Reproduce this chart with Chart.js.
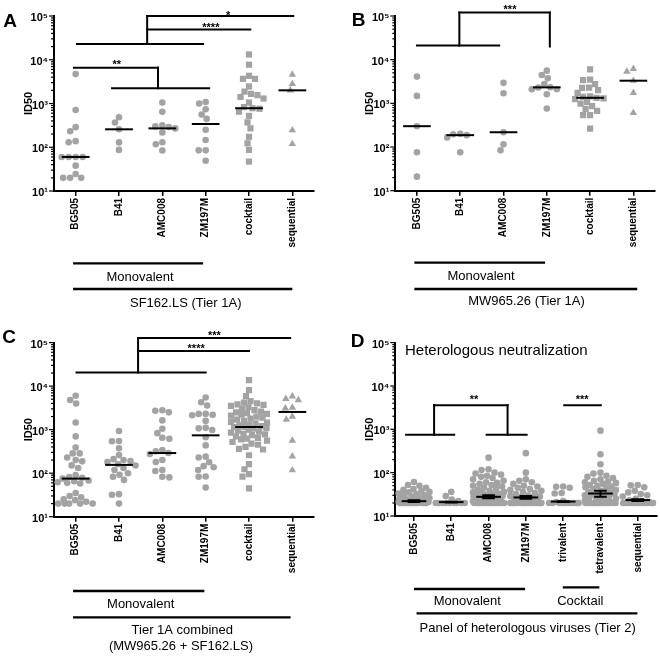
<!DOCTYPE html>
<html><head><meta charset="utf-8">
<script src="https://cdn.jsdelivr.net/npm/chart.js@4/dist/chart.umd.min.js"></script>
<style>
html,body{margin:0;padding:0;background:#fff;width:660px;height:657px;overflow:hidden;}
canvas{position:absolute;display:block;}
</style></head><body>
<canvas id="cA" width="330" height="330" style="left:0;top:0;width:330px;height:330px"></canvas>
<canvas id="cB" width="330" height="330" style="left:330px;top:0;width:330px;height:330px"></canvas>
<canvas id="cC" width="330" height="327" style="left:0;top:330px;width:330px;height:327px"></canvas>
<canvas id="cD" width="330" height="327" style="left:330px;top:330px;width:330px;height:327px"></canvas>
<script>
// ---------- categories & tick labels ----------
const catsABC = ['BG505','B41','AMC008','ZM197M','cocktail','sequential'];
const catsD = ['BG505','B41','AMC008','ZM197M','trivalent','tetravalent','sequential'];
const tickValues = [10,100,1000,10000,100000];
const tickLabels = ['10\u00B9','10\u00B2','10\u00B3','10\u2074','10\u2075'];

// ---------- Panel A: SF162.LS (Tier 1A) ----------
const A_BG505 = [4700,710,288,233,138,130,60,60,60,60,38,24.5,20,20,20];
const A_B41 = [485,367,257,129,87];
const A_AMC008 = [1050,650,316,300,290,270,218,130,117,84];
const A_ZM197M = [1080,1000,740,560,445,250,147,85,85,49];
const A_cocktail = [13200,7700,4300,3660,3660,2450,1870,1660,1550,1410,1300,1050,830,780,760,650,520,370,270,173,123,87,47];
const A_sequential = [4600,2800,2000,245,119];
const A_median = [60,257,270,340,780,2000];

// ---------- Panel B: MW965.26 (Tier 1A) ----------
const B_BG505 = [4100,1480,300,76,21];
const B_B41 = [200,195,187,166,76];
const B_AMC008 = [2950,1700,218,115,84];
const B_ZM197M = [5600,4450,3740,2760,2340,2300,2100,2100,1620,760];
const B_cocktail = [6000,3500,3400,2750,2300,2250,2000,1740,1450,1400,1340,1300,1250,1080,990,860,750,670,540,540,265];
const B_sequential = [6150,5350,3300,1740,610];
const B_median = [300,187,218,2320,1340,3300];

// ---------- Panel C: Tier 1A combined ----------
const C_BG505 = [6000,4800,4000,1460,700,390,285,285,230,200,187,151,131,90,82,78,75,68,65,62,60,58,35,30,28,25,24,22,20,20,20,20,20];
const C_B41 = [930,550,540,375,260,210,200,190,180,160,150,131,118,100,92,83,70,33,32,20];
const C_AMC008 = [2800,2700,2500,1630,1050,830,650,620,340,320,290,275,200,180,118,112,83,80];
const C_ZM197M = [5500,4250,3600,2300,2300,2200,2150,1590,1100,1070,980,670,435,240,230,178,145,137,118,84,83,47];
const C_cocktail = [13800,8100,5900,4500,4200,4000,3800,3700,3500,3300,3000,2800,2600,2500,2400,2300,2200,2100,2000,1900,1800,1700,1600,1500,1450,1400,1300,1250,1200,1150,1150,1100,1050,1000,950,900,850,800,780,750,700,650,620,600,560,520,480,450,400,360,350,258,162,123,95,83,45];
const C_sequential = [5800,5100,4800,3200,3100,2000,1700,560,245,117];
const C_median = [75,155,290,740,1150,2550];

// ---------- Panel D: heterologous (Tier 2) ----------
const D_BG505 = [61,52,50,45,42,40,38,36,35,33,32,30,30,28,27,26,25,24,23,22,22,22,21,21,21,20,20,20,20,20,20,20,20,20,20,20,20,20,20,20];
const D_B41 = [36,29,24,22,20,20,20,20,20,20,20,20,20];
const D_AMC008 = [222,120,115,100,95,90,85,80,75,70,65,60,58,55,52,50,48,45,43,40,38,36,35,34,33,32,31,30,29,28,27,26,25,24,23,22,22,21,21,20,20,20,20,20,20,20,20,20,20,20,20,20,20,20];
const D_ZM197M = [282,100,70,65,60,55,50,48,45,42,40,38,36,34,32,30,29,28,27,26,25,24,23,22,21,20,20,20,20,20,20,20,20,20,20,20,20,20,20,20];
const D_trivalent = [48,47,45,34,33,22,21,20,20,20,20,20,20,20,20,20,20];
const D_tetravalent = [930,265,156,100,95,85,80,75,70,65,62,60,58,55,52,50,48,46,44,42,40,38,36,35,34,33,32,31,30,29,28,27,26,25,24,23,22,21,20,20,20,20,20,20,20,20,20,20,20,20,20,20,20];
const D_sequential = [52,51,46,38,35,32,30,28,25,23,22,21,20,20,20,20,20,20,20,20,20,20,20,20];
const D_center = [22,20.9,27.7,26.8,21.5,33,23.3];
const D_low = [21,20.5,25.6,25,21,27.7,22.2];
const D_high = [23,21.3,30,29,22,38,24.5];

// ---------- styling / layout ----------
const FONT = "'Liberation Sans', Arial, Helvetica, sans-serif";
const GRAY = '#a3a3a3';
const YW = 40;

function annotPlugin(cfg){
  return {
    id:'annot'+cfg.id,
    afterDraw(chart){
      const {ctx, chartArea:ca, scales:{x,y}} = chart;
      const X = c => x.getPixelForValue(c), Y = v => y.getPixelForValue(v);
      ctx.save();
      ctx.strokeStyle='#000'; ctx.fillStyle='#000';
      // y tick marks (major + minor)
      ctx.lineWidth=1.2;
      for(let k=1;k<=5;k++){
        for(let m=1;m<=9;m++){
          const v=m*Math.pow(10,k); if(v>100000) break;
          const py=Y(v), len=(m===1)?5:3;
          ctx.beginPath(); ctx.moveTo(ca.left-len,py); ctx.lineTo(ca.left,py); ctx.stroke();
        }
      }
      // medians / mean + error
      ctx.lineWidth=2;
      if(cfg.median){
        cfg.median.forEach((m,i)=>{
          ctx.beginPath(); ctx.moveTo(X(i-0.32),Y(m)); ctx.lineTo(X(i+0.32),Y(m)); ctx.stroke();
        });
      }
      if(cfg.center){
        cfg.center.forEach((m,i)=>{
          ctx.beginPath(); ctx.moveTo(X(i-0.33),Y(m)); ctx.lineTo(X(i+0.33),Y(m)); ctx.stroke();
          const lo=Y(cfg.low[i]), hi=Y(cfg.high[i]);
          ctx.beginPath(); ctx.moveTo(X(i-0.17),lo); ctx.lineTo(X(i+0.17),lo);
          ctx.moveTo(X(i-0.17),hi); ctx.lineTo(X(i+0.17),hi);
          ctx.moveTo(X(i),lo); ctx.lineTo(X(i),hi); ctx.stroke();
        });
      }
      // significance brackets
      ctx.lineWidth=2; ctx.lineCap='square';
      cfg.brackets.forEach(s=>{
        ctx.beginPath(); ctx.moveTo(X(s[0]),Y(s[1])); ctx.lineTo(X(s[2]),Y(s[3])); ctx.stroke();
      });
      ctx.lineCap='butt';
      ctx.font='bold 11px '+FONT; ctx.textAlign='center'; ctx.textBaseline='alphabetic';
      cfg.stars.forEach(s=>{ ctx.fillText(s.t, X(s.x), Y(s.v)+s.dy); });
      // group lines below axis
      ctx.lineWidth=2.3;
      cfg.groupLines.forEach(g=>{
        const py=ca.bottom+g.dy;
        ctx.beginPath(); ctx.moveTo(X(g.x0),py); ctx.lineTo(X(g.x1),py); ctx.stroke();
      });
      ctx.font='13px '+FONT; ctx.textBaseline='middle'; ctx.textAlign='center';
      cfg.groupTexts.forEach(g=>{ ctx.fillText(g.t, X(g.x), ca.bottom+g.dy); });
      // panel letter
      ctx.font='bold 19px '+FONT; ctx.textAlign='center'; ctx.textBaseline='middle';
      ctx.fillText(cfg.letter.t, cfg.letter.x, cfg.letter.y);
      if(cfg.title){
        ctx.font='15px '+FONT; ctx.textAlign='left'; ctx.textBaseline='middle';
        ctx.fillText(cfg.title.t, cfg.title.x, cfg.title.y);
      }
      ctx.restore();
    }
  };
}

function radiusFor(style){ return style==='circle'?3.3:(style==='rect'?4.4:4.3); }

function makePanel(cfg){
  const canvas=document.getElementById(cfg.id);
  const W=canvas.width, H=canvas.height;
  const datasets=cfg.series.map((vals,i)=>({
    data: vals.map(v=>({x:i,y:v})),
    pointStyle: cfg.styles[i],
    pointRadius: radiusFor(cfg.styles[i]),
    pointHoverRadius: radiusFor(cfg.styles[i]),
    backgroundColor: GRAY, pointBackgroundColor: GRAY,
    borderWidth:0, pointBorderWidth:0, showLine:false
  }));
  const chart=new Chart(canvas,{
    type:'scatter',
    data:{datasets},
    options:{
      responsive:false, animation:false, events:[],
      layout:{padding:{left:cfg.axisLeft-YW, right:W-cfg.axisRight, top:cfg.axisTop, bottom:0}},
      plugins:{legend:{display:false}, tooltip:{enabled:false}},
      scales:{
        x:{type:'linear', min:-0.5, max:cfg.cats.length-0.5,
          afterFit:s=>{ s.height=H-cfg.axisBottom; },
          afterBuildTicks:s=>{ s.ticks=cfg.cats.map((c,i)=>({value:i})); },
          ticks:{callback:v=>cfg.cats[Math.round(v)], minRotation:90, maxRotation:90, autoSkip:false,
                 font:{family:FONT,size:10,weight:'bold'}, color:'#000', padding:2},
          grid:{display:true, drawOnChartArea:false, drawTicks:true, tickLength:5, color:'#000', lineWidth:1.5},
          border:{display:true, color:'#000', width:2}
        },
        y:{type:'logarithmic', min:10, max:100000,
          afterFit:s=>{ s.width=YW; },
          afterBuildTicks:s=>{ s.ticks=tickValues.map(v=>({value:v, major:true})); },
          ticks:{callback:v=>{ const k=tickValues.indexOf(v); return k>=0?tickLabels[k]:''; },
                 font:{family:FONT,size:11,weight:'bold'}, color:'#000', padding:6, labelOffset:2},
          grid:{display:false, drawTicks:false},
          border:{display:true, color:'#000', width:2},
          title:{display:true, text:'ID50', color:'#000', font:{family:FONT,size:11,weight:'bold'}, padding:{top:8.4,bottom:0}}
        }
      }
    },
    plugins:[annotPlugin(cfg)]
  });
  // beeswarm layout of points (pixel space), computed from the scales
  const xs=chart.scales.x, ys=chart.scales.y;
  const catPx=xs.getPixelForValue(1)-xs.getPixelForValue(0);
  const d=6.6, maxOff=cfg.spread*catPx;
  cfg.series.forEach((vals,i)=>{
    const order=vals.map((v,j)=>j).sort((a,b)=>vals[b]-vals[a]);
    const placed=[], offs=new Array(vals.length).fill(0);
    for(const j of order){
      const py=ys.getPixelForValue(vals[j]);
      let chosen=null, best=-1, bestOff=0;
      for(let s=0;s<=maxOff+1e-6;s+=0.5){
        const cands=(s===0)?[0]:[-s,s];
        for(const c of cands){
          let md=Infinity;
          for(const p of placed){ const dd=Math.hypot(p.x-c,p.y-py); if(dd<md) md=dd; }
          if(md>=d){ chosen=c; break; }
          if(md>best){ best=md; bestOff=c; }
        }
        if(chosen!==null) break;
      }
      if(chosen===null) chosen=bestOff;
      offs[j]=chosen; placed.push({x:chosen,y:py});
    }
    chart.data.datasets[i].data.forEach((pt,j)=>{ pt.x=i+offs[j]/catPx; });
  });
  chart.update('none');
  return chart;
}

const stylesABC=['circle','circle','circle','circle','rect','triangle'];

makePanel({
  id:'cA', cats:catsABC, styles:stylesABC, spread:0.42,
  series:[A_BG505,A_B41,A_AMC008,A_ZM197M,A_cocktail,A_sequential],
  median:A_median,
  axisLeft:54, axisRight:314, axisTop:16, axisBottom:191,
  brackets:[[1.65,100000,5.02,100000],[1.65,100000,1.65,23000],[1.65,49000,4.03,49000],[0.03,23000,2.94,23000],
            [-0.04,6600,1.9,6600],[1.9,6600,1.9,2230],[0.84,2230,3.08,2230]],
  stars:[{t:'*',x:3.52,v:100000,dy:2.5},{t:'****',x:3.12,v:49000,dy:1},{t:'**',x:0.95,v:6600,dy:0}],
  groupLines:[{x0:-0.06,x1:2.94,dy:72.3},{x0:-0.06,x1:5.0,dy:98}],
  groupTexts:[{t:'Monovalent',x:1.485,dy:86},{t:'SF162.LS (Tier 1A)',x:2.54,dy:112}],
  letter:{t:'A',x:10,y:22}
});
makePanel({
  id:'cB', cats:catsABC, styles:stylesABC, spread:0.42,
  series:[B_BG505,B_B41,B_AMC008,B_ZM197M,B_cocktail,B_sequential],
  median:B_median,
  axisLeft:65.3, axisRight:325, axisTop:16, axisBottom:190.7,
  brackets:[[0,21000,1.9,21000],[0.98,21000,0.98,120000],[0.98,120000,3.07,120000],[3.07,120000,3.07,20000]],
  stars:[{t:'***',x:2.15,v:120000,dy:0}],
  groupLines:[{x0:-0.06,x1:2.96,dy:72},{x0:-0.06,x1:5.09,dy:98.3}],
  groupTexts:[{t:'Monovalent',x:1.48,dy:85.3},{t:'MW965.26 (Tier 1A)',x:2.53,dy:110.3}],
  letter:{t:'B',x:28.5,y:21}
});
makePanel({
  id:'cC', cats:catsABC, styles:stylesABC, spread:0.42,
  series:[C_BG505,C_B41,C_AMC008,C_ZM197M,C_cocktail,C_sequential],
  median:C_median,
  axisLeft:54, axisRight:314, axisTop:12.3, axisBottom:186.7,
  brackets:[[1.44,127000,4.95,127000],[1.44,127000,1.44,20500],[1.44,64000,4.0,64000],[0.02,20500,3.0,20500]],
  stars:[{t:'***',x:3.2,v:127000,dy:0.5},{t:'****',x:2.78,v:64000,dy:0.5}],
  groupLines:[{x0:-0.06,x1:2.97,dy:74.3},{x0:-0.06,x1:4.96,dy:100.6}],
  groupTexts:[{t:'Monovalent',x:1.5,dy:87.3},{t:'Tier 1A combined',x:2.46,dy:113.3},{t:'(MW965.26 + SF162.LS)',x:2.43,dy:129.3}],
  letter:{t:'C',x:9,y:8}
});
makePanel({
  id:'cD', cats:catsD, styles:['circle','circle','circle','circle','circle','circle','circle'], spread:0.42,
  series:[D_BG505,D_B41,D_AMC008,D_ZM197M,D_trivalent,D_tetravalent,D_sequential],
  center:D_center, low:D_low, high:D_high,
  axisLeft:65.3, axisRight:326.4, axisTop:11.7, axisBottom:186,
  brackets:[[-0.21,750,1.08,750],[0.54,750,0.54,3600],[0.54,3600,2.51,3600],[2.51,3600,2.51,750],[1.95,750,3.02,750],[4.03,3600,5.01,3600]],
  stars:[{t:'**',x:1.61,v:3600,dy:-2},{t:'***',x:4.51,v:3600,dy:-2}],
  groupLines:[{x0:0.0,x1:2.98,dy:73},{x0:3.99,x1:4.97,dy:71.3},{x0:0.07,x1:5.99,dy:97.3}],
  groupTexts:[{t:'Monovalent',x:1.43,dy:85.7},{t:'Cocktail',x:4.46,dy:85.7},{t:'Panel of heterologous viruses (Tier 2)',x:3.05,dy:112.3}],
  letter:{t:'D',x:27.5,y:12},
  title:{t:'Heterologous neutralization',x:75,y:21}
});
</script>
</body></html>
